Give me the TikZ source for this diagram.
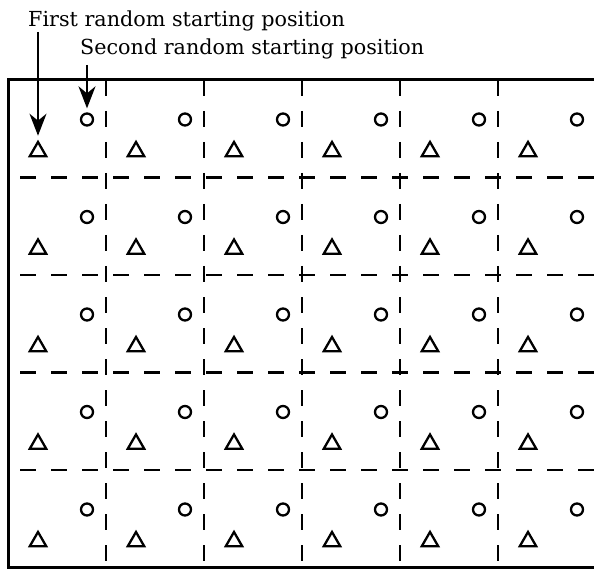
\documentclass[tikz,border=0pt]{standalone}
\usepackage{fontspec}
\setmainfont{DejaVu Serif}
\usepackage{tikz}
\usetikzlibrary{arrows.meta, shapes.geometric, positioning, calc}
\tikzstyle{circmark} = [circle, draw, line width=2.3pt, minimum size=12pt, inner sep=0pt]
\tikzstyle{trimark}  = [regular polygon, regular polygon sides=3, draw, line width=2.3pt,
                        minimum size=19pt, inner sep=0pt]
\tikzstyle{gridline} = [line width=2.6pt, dash pattern=on 16pt off 15pt]
\tikzstyle{lbl}      = [inner sep=0pt, anchor=base west, font=\fontsize{20.7}{25}\selectfont]
\tikzstyle{arr}      = [-{Stealth[length=22pt, width=17pt, inset=7pt]}, line width=2pt,
                        shorten >=4pt]

\begin{document}
\begin{tikzpicture}[x=1pt, y=-1pt]
    \useasboundingbox (0,0) rectangle (594,569);

    % frame (right side runs off the page)
    \draw[line width=3pt] (594,80) -- (8,80) -- (8,567.5) -- (594,567.5);

    % dashed grid
    \foreach \i in {1,...,5}
        \draw[gridline] (8+98*\i,80) -- (8+98*\i,567.5);
    \foreach \j in {1,...,4}
        \draw[gridline] (20,80+97.5*\j) -- (594,80+97.5*\j);

    % sample points in every cell
    \foreach \c in {0,...,5}
        \foreach \r in {0,...,4} {
            \node[circmark] (circ-\c-\r) at (8+98*\c+79, 80+97.5*\r+39.5) {};
            \node[trimark]  (tri-\c-\r)  at (8+98*\c+30, 80+97.5*\r+71.5) {};
        }

    \node[lbl] (first)  at (28,27) {First random starting position};
    \node[lbl] (second) at (80,55) {Second random starting position};

    \draw[arr] (first.south -| tri-0-0) -- (tri-0-0.north);
    \draw[arr, shorten <=5pt] (second.south -| circ-0-0) -- (circ-0-0.north);
\end{tikzpicture}
\end{document}
